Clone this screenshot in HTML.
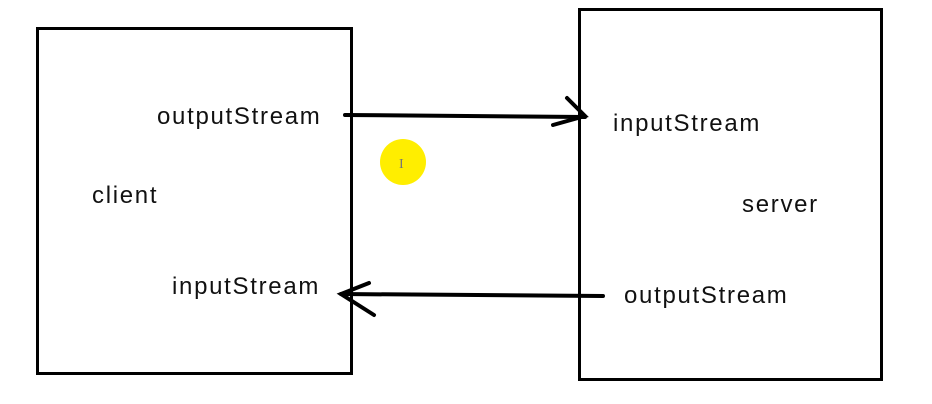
<!DOCTYPE html>
<html><head><style>
body{margin:0;width:932px;height:404px;background:#fff;overflow:hidden;position:relative;font-family:"Liberation Sans",sans-serif;}
.t{position:absolute;font-size:24px;letter-spacing:1.7px;color:#111;line-height:1;}
</style></head><body>
<svg width="932" height="404" style="position:absolute;left:0;top:0">
<rect x="37.5" y="28.5" width="314" height="345" fill="none" stroke="#000" stroke-width="3"/>
<rect x="579.5" y="9.5" width="302" height="370" fill="none" stroke="#000" stroke-width="3"/>
<circle cx="403" cy="162" r="23" fill="#ffee00"/>
<text x="399" y="168" font-size="14" fill="#777" font-family="Liberation Serif">I</text>
<g stroke="#000" stroke-width="4" fill="none" stroke-linecap="round">
<path d="M345 115 L585 117"/>
<path d="M567 98 L585 116 L553 125"/>
<path d="M603 296 L341 294"/>
<path d="M369 283 L341 294 L374 315"/>
</g>
</svg>
<div class="t" style="left:157px;top:105px">outputStream</div>
<div class="t" style="left:92px;top:184px">client</div>
<div class="t" style="left:172px;top:275px">inputStream</div>
<div class="t" style="left:613px;top:112px">inputStream</div>
<div class="t" style="left:742px;top:193px">server</div>
<div class="t" style="left:624px;top:284px">outputStream</div>
</body></html>
